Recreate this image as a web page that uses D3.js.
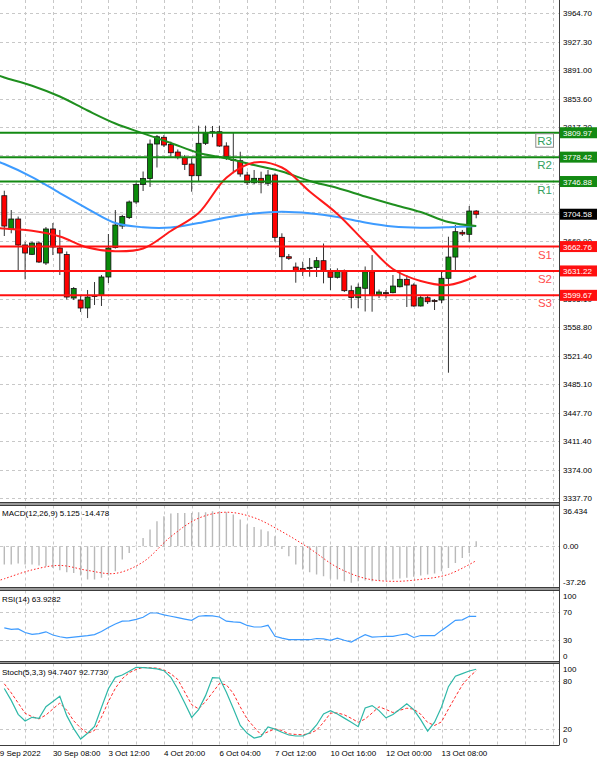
<!DOCTYPE html>
<html><head><meta charset="utf-8">
<script src="https://cdn.jsdelivr.net/npm/d3@7"></script>
<style>body{margin:0;background:#fff}svg{display:block;font-family:"Liberation Sans",Arial,sans-serif}</style>
</head><body><svg id="c" width="600" height="764"></svg>
<script>
// ---------- DATA ----------
const opens=[3728.5,3685.1,3698.4,3664.8,3652.7,3667.3,3641.5,3685.5,3660.9,3652.5,3596.2,3593.6,3583.3,3599.4,3599.4,3623.4,3661.5,3689.3,3700.3,3720.4,3743.0,3750.8,3795.4,3804.1,3794.7,3785.0,3777.7,3769.5,3754.4,3796.3,3810.0,3811.3,3792.8,3775.3,3773.8,3755.3,3745.3,3751.0,3744.6,3755.3,3674.7,3649.6,3636.3,3634.6,3635.0,3635.7,3644.5,3630.2,3623.0,3630.5,3605.7,3596.6,3608.8,3630.2,3600.1,3603.2,3603.1,3610.8,3620.4,3613.0,3585.9,3596.6,3593.0,3593.6,3621.7,3649.2,3681.2,3678.6,3708.7];
const highs=[3735.0,3710.0,3701.6,3668.6,3669.0,3669.3,3688.0,3693.2,3684.2,3656.4,3610.4,3598.8,3606.6,3616.9,3626.0,3679.0,3710.0,3703.6,3722.3,3745.6,3759.8,3801.2,3807.0,3807.0,3798.4,3788.3,3781.2,3776.9,3819.1,3819.1,3818.7,3819.1,3797.6,3810.0,3785.4,3759.6,3761.8,3759.6,3761.8,3757.5,3679.9,3653.1,3642.1,3643.2,3647.9,3649.2,3666.7,3634.6,3634.6,3633.1,3612.4,3615.0,3637.0,3651.8,3607.2,3606.6,3626.0,3632.4,3626.0,3615.2,3600.1,3600.1,3594.9,3630.2,3675.5,3690.6,3684.2,3715.2,3710.0];
const lows=[3676.4,3679.9,3631.5,3620.4,3651.8,3641.5,3638.9,3651.8,3626.0,3594.3,3593.6,3578.1,3570.3,3587.2,3585.9,3615.6,3660.2,3685.5,3698.4,3717.8,3734.6,3739.8,3765.0,3791.5,3779.0,3775.6,3761.8,3733.7,3746.6,3794.1,3804.1,3791.9,3774.7,3757.5,3753.1,3742.4,3743.7,3731.6,3741.1,3669.0,3632.4,3645.4,3616.0,3624.7,3623.8,3623.4,3615.2,3606.6,3621.4,3604.0,3582.9,3583.3,3578.8,3578.5,3596.2,3595.8,3602.3,3609.8,3584.6,3585.0,3585.2,3588.5,3580.7,3589.4,3499.6,3632.4,3676.4,3669.0,3699.3];
const closes=[3689.3,3698.4,3664.8,3654.4,3667.3,3642.8,3685.5,3662.2,3654.4,3597.5,3608.5,3583.3,3597.5,3598.2,3623.4,3660.9,3690.6,3701.6,3720.4,3743.0,3750.8,3795.4,3804.8,3794.1,3784.1,3777.7,3769.1,3754.4,3796.3,3809.2,3811.3,3792.8,3779.0,3774.1,3756.6,3745.3,3751.0,3745.3,3755.3,3674.7,3649.6,3647.6,3631.1,3631.1,3635.9,3644.5,3631.1,3623.0,3630.2,3605.7,3596.9,3610.1,3630.2,3599.4,3604.0,3602.8,3611.7,3620.4,3613.0,3585.9,3596.6,3591.4,3592.6,3621.7,3649.2,3682.0,3679.0,3708.7,3704.58];

const maIndex=[-1,0,4,8,12,16,20,24,28,32,36,40,44,48,52,56,60,64,68];
const maGreen=[3884.6,3881.4,3870.8,3856.8,3838.7,3821.9,3809.2,3796.7,3783.8,3776.9,3768.2,3759.8,3747.5,3738.5,3727.5,3717.1,3707.4,3694.5,3689.3];
const maBlue=[3772.8,3769.5,3752.7,3732.0,3711.6,3693.2,3687.7,3687.4,3693.2,3700.3,3705.5,3707.8,3705.8,3701.0,3693.9,3688.7,3687.1,3687.7,3689.3];
const maRed=[3686.7,3686.1,3683.3,3675.8,3661.5,3656.6,3660.2,3682.9,3706.2,3751.8,3771.5,3765.0,3733.9,3704.9,3668.6,3633.7,3618.2,3613.0,3624.7];

const levelNames=["R3","R2","R1","S1","S2","S3"];
const levelValues=[3809.97,3778.42,3746.88,3662.76,3631.22,3599.67];
const lastPrice=3704.58;

// price grid ticks; labels under the level boxes are fully hidden in the reference
const priceTicks=[3964.70,3927.30,3891.00,3853.60,3817.30,3781.00,3743.60,3707.30,3669.90,3632.50,3595.10,3558.80,3521.40,3485.10,3447.70,3411.40,3374.00,3337.70];
const priceTickLabels=["3964.70","3927.30","3891.00","3853.60","3817.30","","3743.60","","3669.90","","3595.10","3558.80","3521.40","3485.10","3447.70","3411.40","3374.00","3337.70"];

const macdHist=[-18.4,-18.4,-17.4,-18.4,-18.4,-19.4,-20.1,-21.8,-24.1,-26.1,-26.8,-29.5,-33.5,-33.5,-31.8,-29.5,-25.1,-13.4,-6.7,0.8,8.4,16.8,25.1,30.2,32.8,33.5,33.5,33.5,34.2,34.2,35.2,35.2,34.2,31.8,26.8,21.8,19.4,16.8,15.1,10.1,-2.7,-10.1,-18.4,-23.4,-26.1,-28.5,-30.2,-32.8,-33.5,-35.2,-36.8,-35.2,-34.5,-35.2,-34.5,-34.5,-33.5,-32.5,-31.8,-30.8,-29.5,-28.5,-27.5,-25.1,-21.8,-16.8,-11.7,-6.7,5.125];
const macdSignalIndex=[-1,0,4,8,12,16,20,24,28,32,36,40,44,48,52,56,60,64,68];
const macdSignal=[-35.0,-32.7,-23.8,-19.3,-24.3,-27.3,-15.8,9.7,28.2,34.2,28.7,14.7,-2.3,-21.3,-32.3,-35.3,-33.3,-28.3,-14.478];
const macdTicks=[36.434,0,-37.26];
const macdTickText=["36.434","0.00","-37.26"];

const rsi=[47.5,45.5,46,41,38.5,39.5,42,37.5,35,33.5,34.5,35.5,36.5,38,42.5,48,53,57,57.5,59.5,62.5,68.6,68.6,66,64,62,60,58.2,64,64.8,64.5,63,57,56,55.4,51,48.8,48.8,51.2,35.6,33,31,30.8,30.8,30.8,32.5,32,30,33,30,27.6,33,37.9,34.6,35,35.5,35.6,37.5,39,34,36.8,36.5,36.5,44,51,58.2,59,63.9,63.93];
const rsiTicks=[100,70,30,0];

const stochK=[70.6,55.8,38.3,30,34.6,33.3,47.9,54.3,61,36.7,20.5,7.5,14.75,23.3,46.9,70.4,84.6,87.5,92.2,97.1,96.7,96,95.2,92.9,84.6,69.6,52.6,34.6,44.2,61.7,84.2,83.75,66,45.6,24.4,14.6,8.75,10.8,22.5,19.8,15.9,12.5,11.25,11.25,15.4,25,38.75,42.9,38.75,33.6,28.4,22.9,46.3,49.3,43,34,38.1,44.8,51.4,44.3,31.7,17.3,28.5,47.6,72.9,86,89.2,92.5,94.74];
const stochD=[76.5,65.2,52.5,39.6,35.5,32.6,37.5,45,52.5,43.5,30.25,21.25,14.5,18.2,34.8,54.2,70.9,82.9,90.4,94.4,97,96.5,96.1,93.75,89,81.9,66.2,50.4,45.2,54.3,65.4,76.8,75.2,64.5,47.6,32.5,22.25,12.7,16.5,20.2,18.2,13.9,13.2,12.8,14.4,18.5,28.3,39.8,40.1,37.7,33.3,28.4,32.5,40,47.8,44.4,40.6,43.4,46,44.8,38.5,28.2,24.4,28.9,45,60.3,75,85.2,92.77];
const stochTicks=[100,80,20,0];

const timeLabels=["29 Sep 2022","30 Sep 08:00","3 Oct 12:00","4 Oct 20:00","6 Oct 04:00","7 Oct 12:00","10 Oct 16:00","12 Oct 00:00","13 Oct 08:00"];
const timeLabelIndex=[-1.3,7,15,23,31,39,47,55,63];

// ---------- LAYOUT ----------
const svg=d3.select("#c");
const plotRight=559;
const panels={
  main:{top:0,bottom:502.5},
  macd:{top:505.5,bottom:587.5},
  rsi:{top:590.5,bottom:661.5},
  stoch:{top:663.5,bottom:745.5}
};
const x=d3.scaleLinear().domain([0,68]).range([4.3,476.2]);
const yMain=d3.scaleLinear().domain([3337.70,3964.70]).range([497.9,13.1]);
const yMacd=d3.scaleLinear().domain([-37.26,36.434]).range([583.3,510]);
const yRsi=d3.scaleLinear().domain([0,100]).range([661.5,590.8]);
const yStoch=d3.scaleLinear().domain([0,100]).range([745,665]);

svg.append("rect").attr("width",600).attr("height",764).attr("fill","#fff");
const defs=svg.append("defs");
Object.entries(panels).forEach(([k,p])=>{
  defs.append("clipPath").attr("id","clip-"+k).append("rect")
    .attr("x",0).attr("y",p.top).attr("width",plotRight-0.5).attr("height",p.bottom-p.top);
});

// vertical grid (every 4 bars)
const gridIdx=d3.range(3,80,4);
Object.entries(panels).forEach(([k,p])=>{
  svg.append("g").selectAll("line").data(gridIdx).join("line")
    .attr("x1",d=>Math.round(x(d))+0.5).attr("x2",d=>Math.round(x(d))+0.5)
    .attr("y1",p.top).attr("y2",p.bottom)
    .attr("stroke","#c8c8c8").attr("stroke-dasharray","3,3");
});
// horizontal grid main
svg.append("g").selectAll("line").data(priceTicks).join("line")
  .attr("x1",0).attr("x2",plotRight).attr("y1",d=>Math.round(yMain(d))+0.5).attr("y2",d=>Math.round(yMain(d))+0.5)
  .attr("stroke","#c8c8c8").attr("stroke-dasharray","3,3");
function hgrid(vals,y){
  svg.append("g").selectAll("line").data(vals).join("line")
    .attr("x1",0).attr("x2",plotRight).attr("y1",d=>Math.round(y(d))+0.5).attr("y2",d=>Math.round(y(d))+0.5)
    .attr("stroke","#c8c8c8").attr("stroke-dasharray","3,3");
}
hgrid([0],yMacd); hgrid([70,30],yRsi); hgrid([80,20],yStoch);

// last price line
svg.append("line").attr("x1",0).attr("x2",plotRight).attr("y1",yMain(lastPrice)).attr("y2",yMain(lastPrice))
  .attr("stroke","#c4c4c4").attr("stroke-width",1);

// candles
const gMain=svg.append("g").attr("clip-path","url(#clip-main)");
const idx=d3.range(opens.length);
gMain.append("g").selectAll("line").data(idx).join("line")
  .attr("x1",i=>x(i)).attr("x2",i=>x(i)).attr("y1",i=>yMain(highs[i])).attr("y2",i=>yMain(lows[i]))
  .attr("stroke","#333").attr("stroke-width",1);
gMain.append("g").selectAll("rect").data(idx).join("rect")
  .attr("x",i=>x(i)-2.5).attr("width",5)
  .attr("y",i=>yMain(Math.max(opens[i],closes[i])))
  .attr("height",i=>Math.max(1,Math.abs(yMain(opens[i])-yMain(closes[i]))))
  .attr("fill",i=>closes[i]>=opens[i]?"#0a8a0a":"#ff0000")
  .attr("stroke","#111").attr("stroke-width",0.8);

// moving averages
function maLine(vals,color){
  const line=d3.line().x((d,i)=>x(maIndex[i])).y(d=>yMain(d)).curve(d3.curveCatmullRom.alpha(0.5));
  gMain.append("path").datum(vals).attr("d",line).attr("fill","none").attr("stroke",color).attr("stroke-width",2);
}
maLine(maBlue,"#3d9bff");
maLine(maGreen,"#1f8f1f");
maLine(maRed,"#ff1a1a");

// support / resistance
levelNames.forEach((n,k)=>{
  const v=levelValues[k], isR=n[0]==="R";
  const yy=yMain(v);
  svg.append("line").attr("x1",0).attr("x2",plotRight).attr("y1",yy).attr("y2",yy)
    .attr("stroke",isR?"#138a13":"#ff1010").attr("stroke-width",2);
  const t=svg.append("text").attr("x",552).attr("y",yy+12).attr("text-anchor","end")
    .attr("font-size",11.5).attr("fill",isR?"#34a160":"#ff4d4d").text(n);
  if(n==="R3"){
    const bb=t.node().getBBox();
    svg.append("rect").attr("x",bb.x-1.5).attr("y",yy+1).attr("width",bb.width+3).attr("height",13.5)
      .attr("fill","none").attr("stroke","#8a8a8a").attr("stroke-width",1);
  }
});

// panel separators
svg.append("rect").attr("x",0).attr("y",panels.main.bottom).attr("width",plotRight).attr("height",3).attr("fill","#9a9a9a");
svg.append("rect").attr("x",0).attr("y",panels.macd.bottom).attr("width",plotRight).attr("height",3).attr("fill","#9a9a9a");
svg.append("rect").attr("x",0).attr("y",panels.rsi.bottom).attr("width",plotRight).attr("height",2).attr("fill","#9a9a9a");
[panels.main.bottom,panels.macd.top,panels.macd.bottom,panels.rsi.top,panels.rsi.bottom,panels.stoch.top,panels.stoch.bottom].forEach(yy=>{
  svg.append("line").attr("x1",0).attr("x2",plotRight).attr("y1",yy).attr("y2",yy).attr("stroke","#3c3c3c").attr("stroke-width",1);
});
svg.append("line").attr("x1",plotRight+0.5).attr("x2",plotRight+0.5).attr("y1",0).attr("y2",panels.stoch.bottom)
  .attr("stroke","#3c3c3c").attr("stroke-width",1);

// axis labels
function axisLabels(vals,texts,y,p,margin){
  const ax=d3.axisRight(y).tickValues(vals).tickSize(0).tickPadding(4)
    .tickFormat((d,i)=>texts?texts[i]:d);
  const g=svg.append("g").attr("transform",`translate(${plotRight},0)`).call(ax);
  g.select(".domain").remove();
  g.selectAll("text").attr("font-size",8).attr("fill","#000").attr("font-family","Liberation Sans, Arial, sans-serif");
  g.selectAll(".tick").filter((d,i)=>texts&&texts[i]==="").remove();
  if(p){
    g.selectAll(".tick").attr("transform",d=>{
      let yy=y(d); yy=Math.max(p.top+margin,Math.min(p.bottom-margin,yy));
      return `translate(0,${yy})`;
    });
  }
}
axisLabels(priceTicks,priceTickLabels,yMain,null,0);
axisLabels(macdTicks,macdTickText,yMacd,panels.macd,5.5);
axisLabels(rsiTicks,null,yRsi,panels.rsi,5.5);
axisLabels(stochTicks,null,yStoch,panels.stoch,5.5);

// price boxes on axis
function priceBox(v,fill){
  const yy=yMain(v);
  svg.append("rect").attr("x",560).attr("y",yy-5.5).attr("width",37).attr("height",11).attr("fill",fill);
  svg.append("text").attr("x",563).attr("y",yy+3).attr("font-size",8).attr("fill","#fff").text(v.toFixed(2));
}
levelNames.forEach((n,k)=>priceBox(levelValues[k],n[0]==="R"?"#138a13":"#ff1010"));
priceBox(lastPrice,"#000");

// MACD
const gM=svg.append("g").attr("clip-path","url(#clip-macd)");
gM.append("g").selectAll("line").data(idx).join("line")
  .attr("x1",i=>x(i)).attr("x2",i=>x(i)).attr("y1",yMacd(0)).attr("y2",i=>yMacd(macdHist[i]))
  .attr("stroke","#b9b9b9").attr("stroke-width",1.4);
gM.append("path").datum(macdSignal)
  .attr("d",d3.line().x((d,i)=>x(macdSignalIndex[i])).y(d=>yMacd(d)).curve(d3.curveCatmullRom.alpha(0.5)))
  .attr("fill","none").attr("stroke","#ff2020").attr("stroke-width",1).attr("stroke-dasharray","1.5,2");
svg.append("text").attr("x",2).attr("y",516).attr("font-size",8).attr("fill","#000").text("MACD(12,26,9) 5.125 -14.478");

// RSI
const gR=svg.append("g").attr("clip-path","url(#clip-rsi)");
gR.append("path").datum(rsi).attr("d",d3.line().x((d,i)=>x(i)).y(d=>yRsi(d)))
  .attr("fill","none").attr("stroke","#3d9bff").attr("stroke-width",1.2);
svg.append("text").attr("x",2).attr("y",602).attr("font-size",8).attr("fill","#000").text("RSI(14) 63.9282");

// Stoch
const gS=svg.append("g").attr("clip-path","url(#clip-stoch)");
gS.append("path").datum(stochD).attr("d",d3.line().x((d,i)=>x(i)).y(d=>yStoch(d)))
  .attr("fill","none").attr("stroke","#ff2a2a").attr("stroke-width",1).attr("stroke-dasharray","3,2");
gS.append("path").datum(stochK).attr("d",d3.line().x((d,i)=>x(i)).y(d=>yStoch(d)))
  .attr("fill","none").attr("stroke","#2fb8a8").attr("stroke-width",1.2);
svg.append("text").attr("x",2).attr("y",675).attr("font-size",8).attr("fill","#000").text("Stoch(5,3,3) 94.7407 92.7730");

// time labels
svg.append("g").selectAll("text").data(timeLabels).join("text")
  .attr("x",(d,i)=>x(timeLabelIndex[i])).attr("y",756).attr("font-size",8).attr("fill","#000").text(d=>d);
</script></body></html>
